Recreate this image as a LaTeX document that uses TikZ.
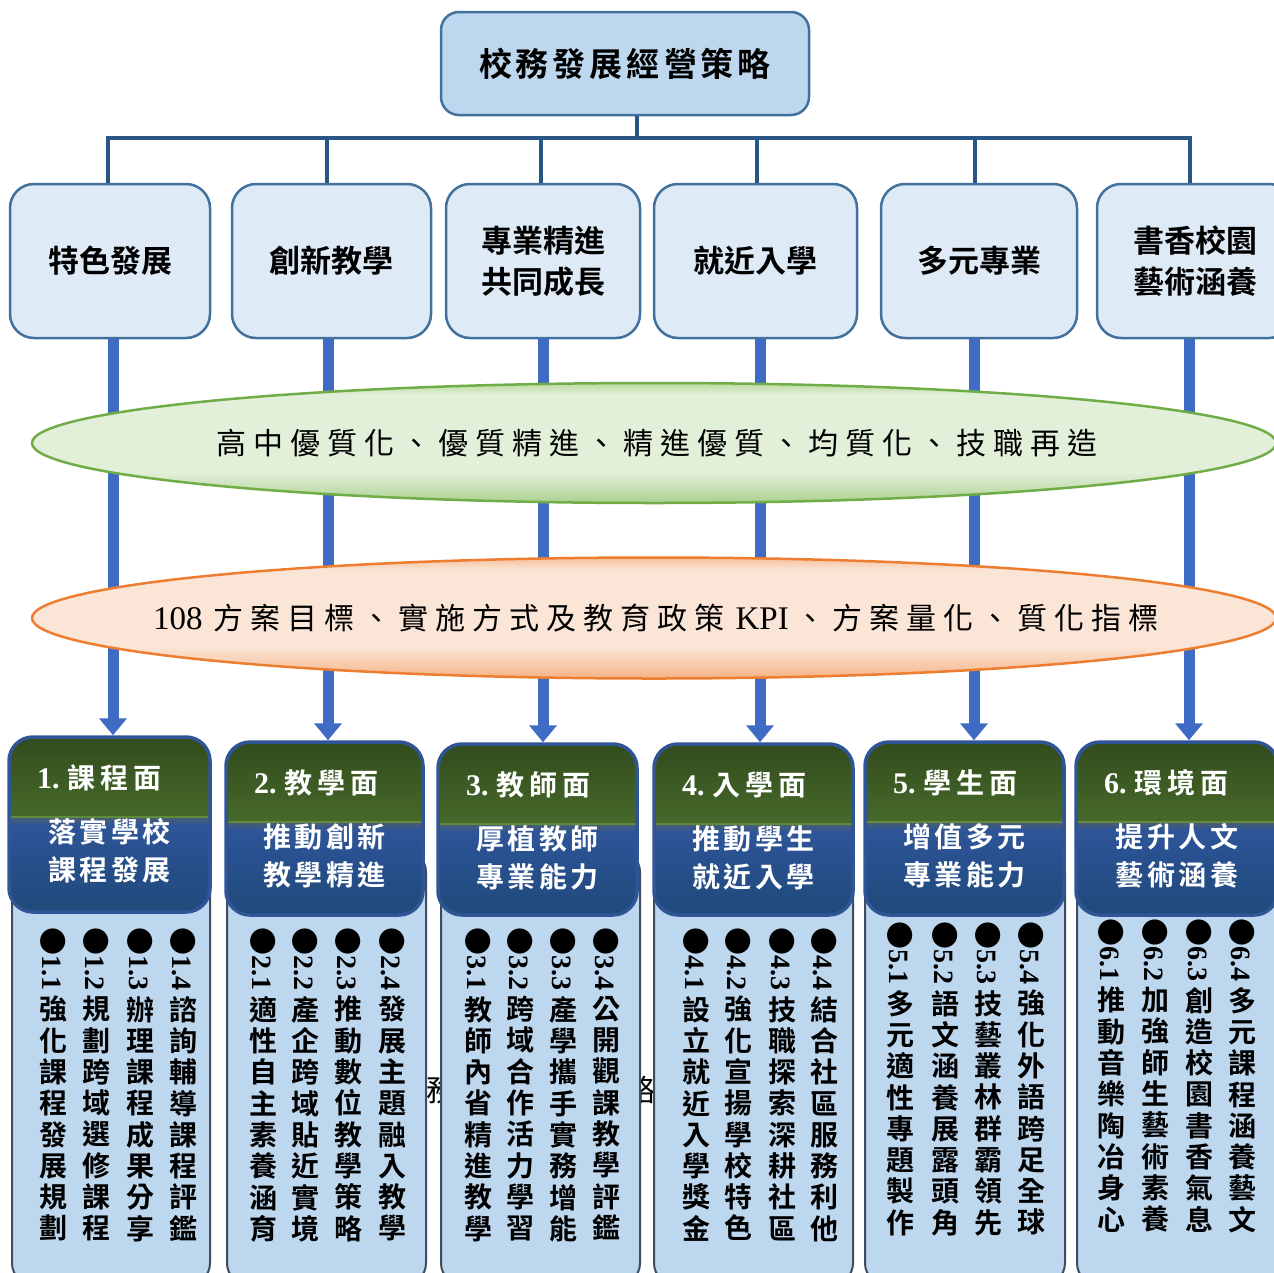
\documentclass[tikz,border=0pt]{standalone}
\usepackage{fontspec}
\usepackage{graphicx}
\setmainfont{Noto Sans CJK TC}[BoldFont={Noto Sans CJK TC Bold}]
\newfontfamily\lat{Liberation Serif}
\usetikzlibrary{arrows.meta,shapes.geometric}

\definecolor{topfill}{HTML}{BDD7EE}
\definecolor{midfill}{HTML}{DEEBF7}
\definecolor{boxline}{HTML}{41719C}
\definecolor{busc}{HTML}{2A5685}
\definecolor{arrc}{HTML}{3F6BC4}
\definecolor{gEdge}{HTML}{A9D18E}
\definecolor{gSoft}{HTML}{C5E0B4}
\definecolor{gMid}{HTML}{E2F0D9}
\definecolor{gTop}{HTML}{B9DA9F}
\definecolor{gline}{HTML}{70AD47}
\definecolor{oEdge}{HTML}{F4B183}
\definecolor{oSoft}{HTML}{F8CBAD}
\definecolor{oMid}{HTML}{FBE5D6}
\definecolor{oTop}{HTML}{F6BE98}
\definecolor{oline}{HTML}{ED7D31}
\definecolor{grTop}{HTML}{324C1D}
\definecolor{grBot}{HTML}{47692B}
\definecolor{glinec}{HTML}{5E8C3A}
\definecolor{hdrline}{HTML}{2F5597}
\definecolor{hb0}{HTML}{4C5F6E}
\definecolor{hb1}{HTML}{2E5597}
\definecolor{hb2}{HTML}{2A5191}
\definecolor{hb3}{HTML}{1F4A7A}
\definecolor{bodyfill}{HTML}{BDD7EE}
\definecolor{bodyline}{HTML}{3F4D5E}

\pgfdeclareverticalshading{gell}{100bp}{color(0bp)=(gEdge); color(25bp)=(gEdge); color(31bp)=(gSoft); color(38bp)=(gMid); color(70bp)=(gMid); color(75bp)=(gTop); color(100bp)=(gTop)}
\pgfdeclareverticalshading{oell}{100bp}{color(0bp)=(oEdge); color(25bp)=(oEdge); color(31bp)=(oSoft); color(38bp)=(oMid); color(70bp)=(oMid); color(75bp)=(oTop); color(100bp)=(oTop)}
\pgfdeclareverticalshading{hblue}{100bp}{color(0bp)=(hb3); color(25bp)=(hb3); color(60bp)=(hb2); color(71bp)=(hb1); color(75bp)=(hb0); color(100bp)=(hb0)}

\makeatletter
\newcommand\spc[2]{\@tfor\spc@c:=#2\do{\spc@c\kern#1}\unkern}
\newcommand\vchars[1]{\@tfor\vc@c:=#1\do{\hbox to 34pt{\hss\vc@c\hss}}}
\makeatother

\tikzset{
  topbox/.style={draw=boxline, line width=2.5pt, fill=topfill, rounded corners=18pt, inner sep=0pt,
    font=\bfseries\fontsize{33}{40}\selectfont},
  midbox/.style={draw=boxline, line width=2.5pt, fill=midfill, rounded corners=24pt, align=center, inner sep=0pt,
    minimum height=154pt, font=\bfseries\fontsize{31}{41}\selectfont},
  busline/.style={draw=busc, line width=4pt},
  thickarr/.style={draw=arrc, line width=11pt, -{Triangle[width=27pt,length=17pt]}},
  greenell/.style={shape=ellipse, draw=gline, line width=2.5pt, shade, shading=gell, inner sep=0pt,
    minimum width=1244pt, minimum height=120pt},
  orangeell/.style={shape=ellipse, draw=oline, line width=2.5pt, shade, shading=oell, inner sep=0pt,
    minimum width=1244pt, minimum height=121pt},
  elltxt/.style={inner sep=0pt, font=\fontsize{30}{36}\selectfont},
  hdrbox/.style={draw=hdrline, line width=3.5pt, rounded corners=24pt, inner sep=0pt},
  subtxt/.style={text=white, align=center, inner sep=0pt, font=\bfseries\fontsize{28}{38}\selectfont},
  ttltxt/.style={text=white, inner sep=0pt, font=\bfseries\fontsize{28}{34}\selectfont},
  gbar/.style={draw=glinec, line width=2pt},
  bodybox/.style={draw=bodyline, line width=2pt, fill=bodyfill, rounded corners=22pt, inner sep=0pt},
  vtext/.style={inner sep=0pt, font=\bfseries\fontsize{28}{31.3}\selectfont},
  ghost/.style={inner sep=0pt, font=\fontsize{30}{36}\selectfont}
}

% #1 name, #2 left, #3 top, #4 right, #5 bottom, #6 number, #7 sub line 1, #8 sub line 2, #9 title
\newcommand\hdr[9]{%
  \begin{scope}
    \clip[rounded corners=24pt] (#2,#3) rectangle (#4,#5);
    \shade[shading=hblue] (#2,#3+80) rectangle (#4,#5);
    \node[subtxt] (#1s) at ({(#2+#4)/2},#3+114) {\spc{3.5pt}{#7}\\\spc{3.5pt}{#8}};
    \shade[top color=grTop, bottom color=grBot] (#2,#3) rectangle (#4,#3+80);
    \draw[gbar] (#2,#3+80) -- (#4,#3+80);
  \end{scope}
  \node[hdrbox, minimum width=#4-#2, minimum height=#5-#3] (#1) at ({(#2+#4)/2},{(#3+#5)/2}) {};
  \node[ttltxt, anchor=west] (#1t) at (#2+28,#3+41) {{\lat\fontsize{30}{34}\selectfont #6}\kern8pt\spc{5pt}{#9}};
}
\newcommand\bodyb[3]{%
  \node[bodybox, minimum width=#3-#2, minimum height=435] (#1) at ({(#2+#3)/2},1067.5) {};
}
\newcommand\vcol[5]{%
  \node[vtext, anchor=north] (#1) at (#2,#3)
    {\vbox{\baselineskip=31.3pt\lineskip=6pt\hbox to 34pt{\hss\rotatebox{-90}{●{\lat #4}}\hss}\vchars{#5}}};
}

\begin{document}
\begin{tikzpicture}[x=1pt,y=-1pt]
\useasboundingbox (0,0) rectangle (1274,1272);
\fill[white] (0,0) rectangle (1274,1272);

% top
\node[topbox, minimum width=368, minimum height=103] (top) at (625,63.5) {\spc{4pt}{校務發展經營策略}};

% second row
\node[midbox, minimum width=200] (b1) at (110,261) {特色發展};
\node[midbox, minimum width=199] (b2) at (331.5,261) {創新教學};
\node[midbox, minimum width=194] (b3) at (543,261) {專業精進\\共同成長};
\node[midbox, minimum width=203] (b4) at (755.5,261) {就近入學};
\node[midbox, minimum width=196] (b5) at (979,261) {多元專業};
\node[midbox, minimum width=196] (b6) at (1195,261) {書香校園\\藝術涵養};

% bus
\draw[busline] ([xshift=12pt]top.south) -- ++(0,22) coordinate (bj);
\foreach \i/\s in {1/-2,2/-4.5,3/-2,4/1.5,5/-4,6/-5}
  \draw[busline] (bj) -| ([xshift=\s pt]b\i.north);

% fragments of text hidden behind the columns
\node[ghost, anchor=west] (gh1) at (426,1090) {務};
\node[ghost, anchor=west] (gh2) at (625,1090) {略};

% bodies
\bodyb{body1}{12}{210}
\bodyb{body2}{227}{426}
\bodyb{body3}{441}{640}
\bodyb{body4}{654}{853}
\bodyb{body5}{865}{1065}
\bodyb{body6}{1077}{1282}

% headers
\hdr{h1}{9}{737}{210}{912}{1.}{落實學校}{課程發展}{課程面}
\hdr{h2}{226}{742}{423}{915}{2.}{推動創新}{教學精進}{教學面}
\hdr{h3}{438}{744}{637}{915}{3.}{厚植教師}{專業能力}{教師面}
\hdr{h4}{654}{744}{853}{915}{4.}{推動學生}{就近入學}{入學面}
\hdr{h5}{865}{742}{1064}{915}{5.}{增值多元}{專業能力}{學生面}
\hdr{h6}{1076}{742}{1278}{915}{6.}{提升人文}{藝術涵養}{環境面}

% arrows
\foreach \i/\s in {1/3,2/-3.5,3/0,4/4.5,5/-5,6/-6}
  \draw[thickarr] ([xshift=\s pt]b\i.south) -- ([xshift=\s pt]b\i.south |- h\i.north);

% ellipses
\node[greenell] (e1) at (654,443) {};
\node[elltxt] (e1t) at (657,443) {\spc{7pt}{高中優質化、優質精進、精進優質、均質化、技職再造}};
\node[orangeell] (e2) at (654,618) {};
\node[elltxt] (e2t) at (656,618) {\spc{7pt}{{{\lat\fontsize{33}{36}\selectfont 108\kern4pt}}方案目標、實施方式及教育政策{{\kern4pt\lat\fontsize{33}{36}\selectfont KPI}}、方案量化、質化指標}};

% column texts
\vcol{c11}{53}{927}{1.1}{強化課程發展規劃}
\vcol{c12}{96}{927}{1.2}{規劃跨域選修課程}
\vcol{c13}{140}{927}{1.3}{辦理課程成果分享}
\vcol{c14}{183}{927}{1.4}{諮詢輔導課程評鑑}
\vcol{c21}{263}{927}{2.1}{適性自主素養涵育}
\vcol{c22}{305}{927}{2.2}{產企跨域貼近實境}
\vcol{c23}{348}{927}{2.3}{推動數位教學策略}
\vcol{c24}{392}{927}{2.4}{發展主題融入教學}
\vcol{c31}{478}{927}{3.1}{教師內省精進教學}
\vcol{c32}{520}{927}{3.2}{跨域合作活力學習}
\vcol{c33}{563}{927}{3.3}{產學攜手實務增能}
\vcol{c34}{606}{927}{3.4}{公開觀課教學評鑑}
\vcol{c41}{696}{927}{4.1}{設立就近入學獎金}
\vcol{c42}{738}{927}{4.2}{強化宣揚學校特色}
\vcol{c43}{782}{927}{4.3}{技職探索深耕社區}
\vcol{c44}{824}{927}{4.4}{結合社區服務利他}
\vcol{c51}{900}{921}{5.1}{多元適性專題製作}
\vcol{c52}{945}{921}{5.2}{語文涵養展露頭角}
\vcol{c53}{988}{921}{5.3}{技藝叢林群霸領先}
\vcol{c54}{1031}{921}{5.4}{強化外語跨足全球}
\vcol{c61}{1111}{918}{6.1}{推動音樂陶冶身心}
\vcol{c62}{1155}{918}{6.2}{加強師生藝術素養}
\vcol{c63}{1199}{918}{6.3}{創造校園書香氣息}
\vcol{c64}{1242}{918}{6.4}{多元課程涵養藝文}
\end{tikzpicture}
\end{document}
